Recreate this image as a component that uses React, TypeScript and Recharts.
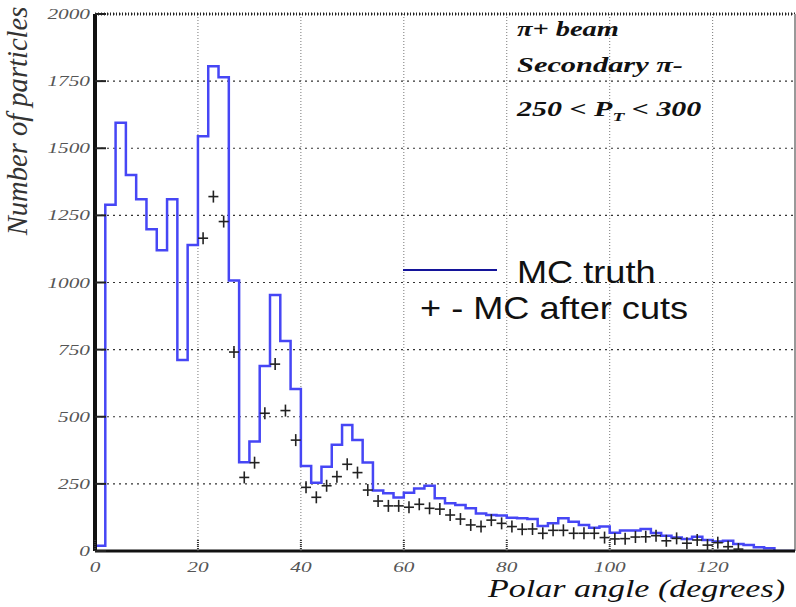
import React from "react";
import {
  ComposedChart,
  Line,
  Scatter,
  XAxis,
  YAxis,
  CartesianGrid,
  ReferenceLine
} from "recharts";

// histogram edges (degrees) and MC truth counts per 2-degree bin
const binEdges = [
  0, 2, 4, 6, 8, 10, 12, 14, 16, 18, 20, 22, 24, 26, 28, 30, 32, 34, 36, 38,
  40, 42, 44, 46, 48, 50, 52, 54, 56, 58, 60, 62, 64, 66, 68, 70, 72, 74, 76, 78,
  80, 82, 84, 86, 88, 90, 92, 94, 96, 98, 100, 102, 104, 106, 108, 110, 112, 114,
  116, 118, 120, 122, 124, 126, 128, 130, 132, 134, 136
];
const truthCounts = [
  20, 1290, 1595, 1400, 1310, 1198, 1120, 1310, 711, 1140, 1545, 1805, 1764, 1007,
  331, 408, 689, 953, 782, 603, 317, 254, 314, 396, 469, 413, 330, 225, 215, 199,
  217, 233, 243, 196, 178, 171, 159, 140, 134, 132, 124, 122, 119, 93, 103, 122,
  109, 97, 87, 91, 68, 76, 76, 82, 67, 57, 50, 45, 53, 41, 35, 38, 26, 22, 14, 10,
  0, 0, 0
];

// MC after cuts, at bin centres
const cutAngles = [
  21, 23, 25, 27, 29, 31, 33, 35, 37, 39, 41, 43, 45, 47, 49, 51, 53, 55, 57, 59,
  61, 63, 65, 67, 69, 71, 73, 75, 77, 79, 81, 83, 85, 87, 89, 91, 93, 95, 97, 99,
  101, 103, 105, 107, 109, 111, 113, 115, 117, 119, 121, 123, 125
];
const cutCounts = [
  1165, 1320, 1227, 741, 274, 329, 513, 696, 523, 413, 237, 200, 243, 277, 323, 292,
  227, 186, 168, 168, 163, 174, 159, 156, 134, 119, 97, 91, 115, 103, 91, 81, 82, 66,
  77, 77, 66, 66, 66, 50, 45, 46, 52, 53, 57, 38, 47, 29, 41, 22, 31, 16, 7
];

const xTicks = [0, 20, 40, 60, 80, 100, 120];
const yTicks = [0, 250, 500, 750, 1000, 1250, 1500, 1750, 2000];

const SERIF = "'Liberation Serif', 'DejaVu Serif', serif";
const SANS = "'Liberation Sans', Arial, sans-serif";
const SX = 1.42;

const truthData = binEdges.map((a, i) => ({ angle: a, value: truthCounts[i] }));
const cutData = cutAngles.map((a, i) => ({ angle: a, value: cutCounts[i] }));

const YTick = (props: any) => {
  const { x, y, payload } = props;
  return (
    <g>
      <line x1={x} y1={y} x2={x + 11} y2={y} stroke="#222" strokeWidth={2} />
      <text
        transform={`translate(${x - 5},${y + 5}) scale(${SX},1)`}
        textAnchor="end"
        fontFamily={SERIF}
        fontStyle="italic"
        fontSize={15}
        fill="#555"
      >
        {payload.value}
      </text>
    </g>
  );
};

const XTick = (props: any) => {
  const { x, y, payload } = props;
  return (
    <g>
      <line x1={x} y1={y} x2={x} y2={y - 11} stroke="#333" strokeWidth={2} strokeDasharray="1 1" />
      <text
        transform={`translate(${x},${y + 21}) scale(${SX},1)`}
        textAnchor="middle"
        fontFamily={SERIF}
        fontStyle="italic"
        fontSize={15}
        fill="#555"
      >
        {payload.value}
      </text>
    </g>
  );
};

const Cross = (props: any) => {
  const { cx, cy } = props;
  if (cx == null || cy == null) return <g />;
  return (
    <g stroke="#222" strokeWidth={1.6}>
      <line x1={cx - 5} y1={cy} x2={cx + 5} y2={cy} />
      <line x1={cx} y1={cy - 6} x2={cx} y2={cy + 6} />
    </g>
  );
};

const Stretched = ({ x, y, size, children, bold = false, sx = SX }: any) => (
  <text
    transform={`translate(${x},${y}) scale(${sx},1)`}
    fontFamily={SERIF}
    fontStyle="italic"
    fontWeight={bold ? "bold" : "normal"}
    fontSize={size}
    fill="#111"
  >
    {children}
  </text>
);

export default function App() {
  return (
    <div style={{ position: "absolute", left: 0, top: 0, background: "#fff" }}>
      <ComposedChart
        width={796}
        height={607}
        data={truthData}
        margin={{ top: 14, right: 1, bottom: 0, left: 0 }}
      >
        <CartesianGrid
          horizontal={false}
          stroke="#777"
          strokeDasharray="1 2"
          verticalValues={[20, 40, 60, 80, 100, 120]}
        />
        <CartesianGrid
          vertical={false}
          stroke="#333"
          strokeDasharray="2 4"
          strokeWidth={1.2}
        />
        <XAxis
          type="number"
          dataKey="angle"
          domain={[0, 136]}
          ticks={xTicks}
          allowDataOverflow
          height={56}
          tickSize={0}
          tickMargin={0}
          tickLine={false}
          axisLine={{ stroke: "#111", strokeWidth: 3 }}
          tick={<XTick />}
        />
        <YAxis
          type="number"
          dataKey="value"
          domain={[0, 2000]}
          ticks={yTicks}
          allowDataOverflow
          width={95}
          tickSize={0}
          tickMargin={0}
          tickLine={false}
          axisLine={{ stroke: "#111", strokeWidth: 4 }}
          tick={<YTick />}
        />
        <ReferenceLine y={2000} stroke="#222" strokeWidth={3} strokeDasharray="1 2" />
        <ReferenceLine x={136} stroke="#999" strokeWidth={2} />
        <Line
          type="stepAfter"
          dataKey="value"
          stroke="#4646f5"
          strokeWidth={2.5}
          dot={false}
          isAnimationActive={false}
        />
        <Scatter
          data={cutData}
          dataKey="value"
          shape={<Cross />}
          isAnimationActive={false}
        />
        <Stretched x={517} y={36} size={20} bold>π+ beam</Stretched>
        <Stretched x={517} y={72} size={20} bold sx={1.52}>Secondary π-</Stretched>
        <text
          transform={`translate(517,116) scale(1.5,1)`}
          fontFamily={SERIF}
          fontStyle="italic"
          fontWeight="bold"
          fontSize={20}
          fill="#111"
        >
          250 &lt; P
          <tspan fontSize={13} dy={5}>T</tspan>
          <tspan dy={-5}> &lt; 300</tspan>
        </text>
        <line x1={403} y1={270} x2={497} y2={270} stroke="#14149a" strokeWidth={2} />
        <text
          transform="translate(517,283) scale(1.13,1)"
          fontFamily={SANS}
          fontSize={32}
          fill="#111"
        >
          MC truth
        </text>
        <text
          transform="translate(420,319) scale(1.13,1)"
          fontFamily={SANS}
          fontSize={32}
          fill="#111"
        >
          + - MC after cuts
        </text>
        <text
          transform={`translate(27,121) rotate(-90) scale(1.3,1.38)`}
          textAnchor="middle"
          fontFamily={SERIF}
          fontStyle="italic"
          fontSize={22}
          fill="#333"
        >
          Number of particles
        </text>
        <Stretched x={488} y={597} size={25} sx={1.36}>Polar angle (degrees)</Stretched>
      </ComposedChart>
    </div>
  );
}
